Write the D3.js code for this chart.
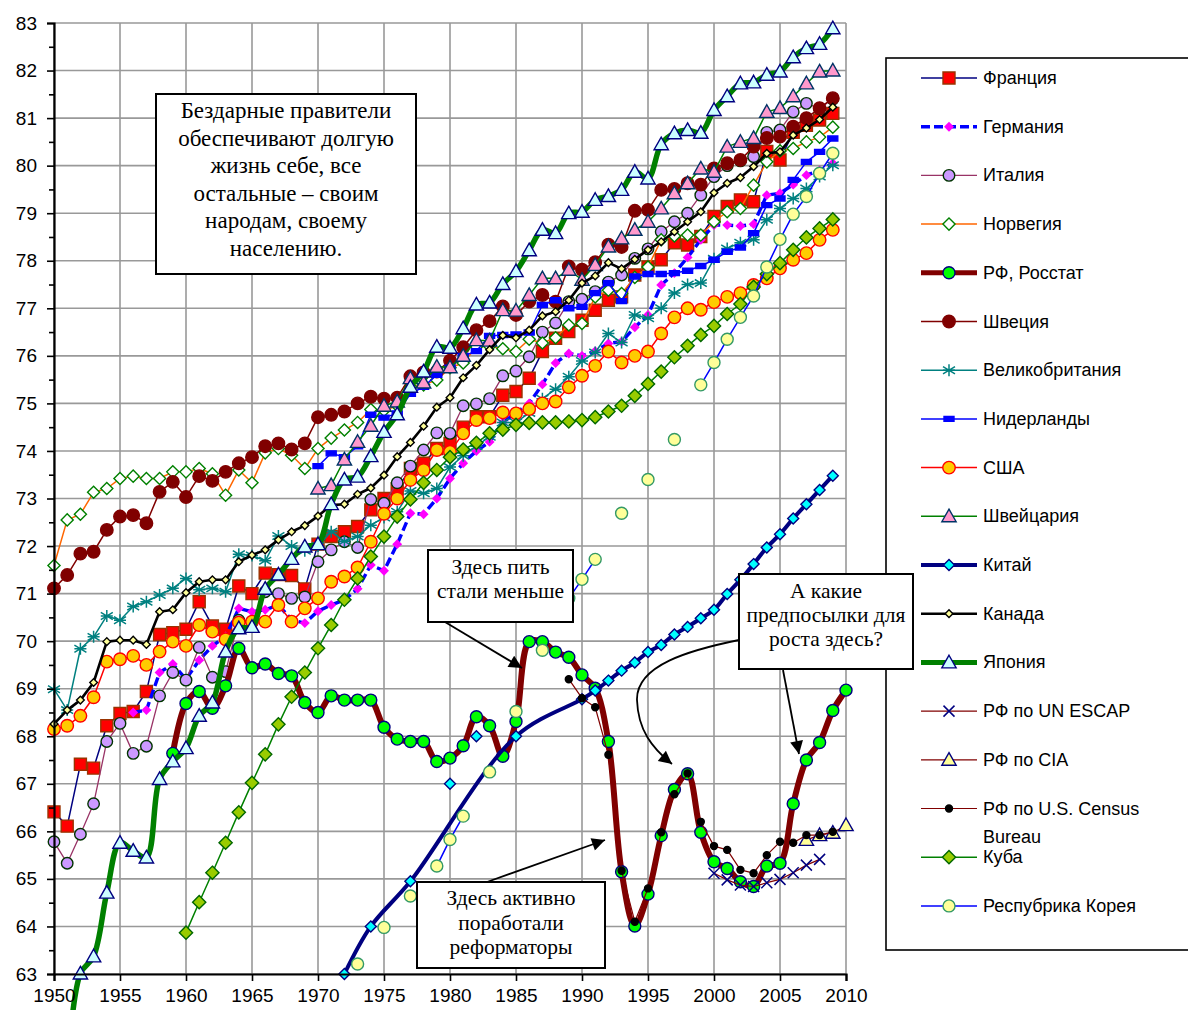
<!DOCTYPE html>
<html>
<head>
<meta charset="utf-8">
<script src="https://cdn.jsdelivr.net/npm/d3@7"></script>
<style>
  body { margin: 0; background: #fff; }
  svg { display: block; }
</style>
</head>
<body>
<div id="viz"></div>
<script>
// --- data ---
const franceStart = 1950;
const franceValues = [66.41, 66.11, 67.41, 67.33, 68.22, 68.48, 68.52, 68.94, 70.14, 70.18,
  70.25, 70.83, 70.32, 70.25, 71.16, 71.0, 71.43, 71.4, 71.38, 71.1,
  72.04, 72.2, 72.3, 72.41, 72.76, 73.0, 73.2, 73.63, 73.74, 74.05,
  74.16, 74.5, 74.72, 74.72, 75.17, 75.25, 75.53, 76.09, 76.37, 76.51,
  76.75, 76.96, 77.17, 77.24, 77.7, 77.87, 78.02, 78.38, 78.33, 78.51,
  78.93, 79.14, 79.28, 79.24, 80.3, 80.12, 80.7, 80.85, 80.96, 81.1];

const germanyStart = 1956;
const germanyValues = [68.5, 68.55, 69.34, 69.52, 69.2, 69.6, 69.9, 70.1, 70.69, 70.62,
  70.66, 70.76, 70.45, 70.38, 70.63, 70.76, 70.87, 71.1, 71.6, 71.48,
  72.04, 72.69, 72.67, 73.0, 73.42, 73.74, 74.0, 74.19, 74.6, 74.8,
  75.0, 75.4, 75.85, 76.05, 76.0, 76.1, 76.26, 76.3, 76.6, 76.86,
  77.49, 77.74, 78.07, 78.44, 78.75, 78.75, 78.73, 78.77, 79.38, 79.42,
  79.6, 79.8, 79.9, 80.05];

const italyStart = 1950;
const italyValues = [65.78, 65.33, 65.94, 66.58, 67.89, 68.27, 67.64, 67.79, 68.85, 69.34,
  69.18, 69.87, 69.24, 69.36, 70.44, 70.4, 71.04, 71.0, 70.9, 70.93,
  71.67, 71.92, 72.09, 71.97, 72.98, 72.9, 73.33, 73.68, 74.02, 74.38,
  74.37, 74.95, 74.99, 75.1, 75.58, 75.68, 75.98, 76.5, 76.69, 77.14,
  77.19, 77.35, 77.55, 77.7, 78.05, 78.25, 78.61, 78.82, 79.0, 79.38,
  79.77, 80.0, 80.1, 80.19, 80.7, 80.75, 81.13, 81.31, 81.2, 81.4];

const norwayStart = 1950;
const norwayValues = [71.59, 72.55, 72.67, 73.13, 73.21, 73.42, 73.47, 73.42, 73.42, 73.56,
  73.56, 73.63, 73.52, 73.07, 73.6, 73.33, 73.96, 74.05, 73.91, 73.63,
  74.05, 74.27, 74.44, 74.6, 74.87, 74.85, 74.95, 75.35, 75.39, 75.49,
  75.75, 75.85, 76.19, 76.2, 76.15, 76.09, 76.35, 76.27, 76.38, 76.65,
  76.68, 77.24, 77.38, 77.31, 77.65, 77.87, 78.44, 78.52, 78.54, 78.54,
  78.82, 79.03, 79.1, 79.59, 80.08, 80.31, 80.36, 80.5, 80.6, 80.81];

const rosstatStart = 1959;
const rosstatValues = [67.64, 68.69, 68.94, 68.59, 69.06, 69.85, 69.44, 69.52, 69.32, 69.27,
  68.71, 68.5, 68.85, 68.76, 68.76, 68.76, 68.19, 67.94, 67.89, 67.89,
  67.47, 67.54, 67.8, 68.41, 68.22, 67.58, 68.31, 69.99, 69.99, 69.77,
  69.66, 69.29, 69.01, 67.89, 65.15, 64.01, 64.68, 65.91, 66.88, 67.21,
  65.98, 65.36, 65.22, 64.94, 64.84, 65.27, 65.33, 66.58, 67.5, 67.87,
  68.54, 68.97];

const swedenStart = 1950;
const swedenValues = [71.11, 71.39, 71.84, 71.88, 72.34, 72.62, 72.65, 72.48, 73.14, 73.35,
  73.03, 73.47, 73.37, 73.56, 73.74, 73.87, 74.1, 74.16, 74.03, 74.16,
  74.71, 74.76, 74.83, 75.0, 75.14, 75.1, 75.12, 75.57, 75.65, 75.67,
  75.9, 76.18, 76.54, 76.73, 77.04, 76.86, 77.14, 77.28, 77.14, 77.88,
  77.81, 77.97, 78.34, 78.29, 79.05, 79.07, 79.49, 79.51, 79.63, 79.6,
  79.94, 80.05, 80.12, 80.4, 80.58, 80.61, 80.82, 81.0, 81.21, 81.42];

const ukStart = 1950;
const ukValues = [68.99, 68.55, 69.84, 70.09, 70.53, 70.44, 70.73, 70.83, 70.97, 71.11,
  71.32, 71.08, 71.11, 71.04, 71.83, 71.8, 71.69, 72.21, 72.0, 71.9,
  72.0, 72.3, 72.1, 72.2, 72.44, 72.6, 72.72, 73.16, 73.11, 73.21,
  73.66, 73.9, 74.1, 74.3, 74.6, 74.6, 74.8, 75.1, 75.3, 75.56,
  75.89, 76.07, 76.47, 76.28, 76.86, 76.79, 77.0, 77.32, 77.5, 77.53,
  78.04, 78.26, 78.38, 78.44, 78.86, 79.1, 79.31, 79.52, 79.77, 80.01];

const netherlandsStart = 1970;
const netherlandsValues = [73.68, 73.95, 73.87, 74.1, 74.76, 74.7, 74.79, 75.2, 75.35, 75.6,
  75.75, 76.0, 76.1, 76.42, 76.44, 76.45, 76.49, 77.07, 77.17, 77.0,
  77.03, 77.32, 77.53, 77.15, 77.67, 77.72, 77.72, 77.74, 77.79, 77.89,
  78.02, 78.19, 78.28, 78.58, 79.17, 79.31, 79.7, 80.08, 80.29, 80.57];

const usaStart = 1950;
const usaValues = [68.15, 68.22, 68.43, 68.82, 69.57, 69.62, 69.69, 69.5, 69.78, 69.99,
  69.9, 70.34, 70.2, 70.04, 70.39, 70.41, 70.41, 70.76, 70.41, 70.69,
  70.9, 71.25, 71.36, 71.55, 72.09, 72.68, 73.0, 73.39, 73.6, 74.02,
  73.98, 74.37, 74.65, 74.69, 74.81, 74.79, 74.88, 75.0, 75.04, 75.34,
  75.58, 75.79, 76.09, 75.86, 76.0, 76.09, 76.47, 76.81, 77.0, 76.97,
  77.13, 77.24, 77.32, 77.49, 77.63, 77.84, 78.02, 78.16, 78.44, 78.65];

const swissStart = 1970;
const swissValues = [73.21, 73.28, 73.82, 74.19, 74.53, 74.95, 75.04, 75.53, 75.44, 75.77,
  75.76, 76.0, 76.33, 76.32, 76.96, 76.95, 77.28, 77.63, 77.63, 77.81,
  77.6, 77.91, 78.3, 78.47, 78.65, 78.82, 79.1, 79.42, 79.63, 79.94,
  79.87, 80.4, 80.5, 80.58, 81.13, 81.21, 81.46, 81.73, 81.98, 82.0];

const chinaYears = [1972, 1974, 1977, 1985, 1990, 1991, 1992, 1993, 1994, 1995, 1996, 1997,
  1998, 1999, 2000, 2001, 2002, 2003, 2004, 2005, 2006, 2007, 2008, 2009];
const chinaValues = [63.0, 64.0, 64.95, 68.0, 68.78, 68.96, 69.17, 69.38, 69.55, 69.77, 69.92, 70.14,
  70.3, 70.48, 70.66, 70.99, 71.29, 71.62, 71.97, 72.25, 72.58, 72.88, 73.18, 73.48];
const chinaExtraYears = [1980, 1982];
const chinaExtraValues = [67.0, 68.0];

const canadaStart = 1950;
const canadaValues = [68.26, 68.55, 68.76, 69.13, 69.99, 70.02, 70.02, 69.93, 70.62, 70.66,
  71.02, 71.25, 71.29, 71.29, 71.67, 71.81, 71.92, 72.13, 72.3, 72.43,
  72.63, 72.86, 72.88, 73.09, 73.22, 73.49, 73.88, 74.18, 74.52, 74.92,
  75.12, 75.54, 75.8, 76.13, 76.43, 76.38, 76.54, 76.84, 76.93, 77.17,
  77.53, 77.68, 77.96, 77.83, 78.03, 78.23, 78.4, 78.61, 78.82, 79.03,
  79.43, 79.63, 79.75, 79.98, 80.26, 80.29, 80.64, 80.79, 80.97, 81.23];

const japanStart = 1951;
const japanValues = [61.0, 63.01, 63.37, 64.71, 65.76, 65.59, 65.45, 67.1, 67.47,
  67.75, 68.43, 68.71, 69.78, 70.27, 70.3, 71.1, 71.4, 71.73, 71.99,
  72.04, 72.88, 73.4, 73.46, 73.89, 74.4, 74.77, 75.35, 75.67, 76.19,
  76.17, 76.58, 77.08, 77.12, 77.51, 77.78, 78.22, 78.65, 78.58, 79.0,
  79.03, 79.28, 79.36, 79.49, 79.87, 79.73, 80.45, 80.68, 80.75, 80.69,
  81.17, 81.46, 81.73, 81.75, 81.91, 81.98, 82.28, 82.47, 82.56, 82.89];

const escapStart = 2000;
const escapValues = [65.12, 64.98, 64.87, 64.84, 64.92, 64.99, 65.13, 65.29, 65.41];

const ciaStart = 2007;
const ciaValues = [65.82, 65.92, 65.97, 66.13];

const censusStart = 1989;
const censusValues = [69.2, 68.8, 68.61, 67.61, 65.17, 64.1, 64.8, 65.98, 66.78, 67.22,
  66.2, 65.69, 65.61, 65.19, 65.12, 65.5, 65.78, 65.76, 65.92, 65.92, 65.99];

const cubaStart = 1960;
const cubaValues = [63.87, 64.51, 65.13, 65.76, 66.4, 67.02, 67.62, 68.25, 68.83, 69.34,
  69.85, 70.34, 70.87, 71.32, 71.78, 72.2, 72.62, 72.98, 73.33, 73.6,
  73.87, 74.03, 74.17, 74.37, 74.45, 74.55, 74.59, 74.6, 74.6, 74.62,
  74.65, 74.71, 74.83, 74.95, 75.16, 75.41, 75.67, 75.97, 76.21, 76.44,
  76.63, 76.88, 77.09, 77.45, 77.72, 77.95, 78.23, 78.49, 78.68, 78.87];

const koreaStart = 1973;
const koreaValues = [63.21, null, 63.98, null, 64.64, null, 65.27, 65.83, 66.32, null,
  67.25, null, 68.52, null, 69.81, null, 70.9, 71.3, 71.72, null,
  72.69, null, 73.4, null, 74.24, null, 75.39, 75.86, 76.35, 76.81,
  77.26, 77.87, 78.45, 78.98, 79.35, 79.84, 80.26];

const yTicks = d3.range(63, 84);
const xTicks = d3.range(1950, 2011, 5);

const noteMain = ["Бездарные правители", "обеспечивают долгую", "жизнь себе, все",
  "остальные – своим", "народам, своему", "населению."];
const noteDrink = ["Здесь пить", "стали меньше"];
const noteReform = ["Здесь активно", "поработали", "реформаторы"];
const noteGrowth = ["А какие", "предпосылки для", "роста здесь?"];

// --- setup ---
const W = 1188, H = 1010;
const svg = d3.select("#viz").append("svg").attr("width", W).attr("height", H)
  .style("background", "#fff");

const x = d3.scaleLinear().domain([1950, 2010]).range([54, 846]);
const y = d3.scaleLinear().domain([63, 83]).range([974, 23]);

const sansFont = "'Liberation Sans', Arial, sans-serif";
const serifFont = "'Liberation Serif', 'Times New Roman', serif";

const series = [
  { name: "Франция", start: franceStart, values: franceValues, stroke: "#000080", width: 1.5,
    marker: "square", size: 12, fill: "#ff0000", mstroke: "#993300" },
  { name: "Германия", start: germanyStart, values: germanyValues, stroke: "#0000ff", width: 3.4,
    dash: "9,4", marker: "diamond", size: 9, fill: "#ff00ff", mstroke: "none" },
  { name: "Италия", start: italyStart, values: italyValues, stroke: "#993366", width: 1.3,
    marker: "circle", size: 11.5, fill: "#cc99ff", mstroke: "#003300" },
  { name: "Норвегия", start: norwayStart, values: norwayValues, stroke: "#ff6600", width: 1.5,
    marker: "diamond", size: 11, fill: "#ffffff", mstroke: "#008000" },
  { name: "РФ, Росстат", start: rosstatStart, values: rosstatValues, stroke: "#800000", width: 6,
    smooth: true, marker: "circle", size: 12, fill: "#00ff00", mstroke: "#000080" },
  { name: "Швеция", start: swedenStart, values: swedenValues, stroke: "#800000", width: 1.5,
    marker: "circle", size: 12.5, fill: "#800000", mstroke: "#800000" },
  { name: "Великобритания", start: ukStart, values: ukValues, stroke: "#008080", width: 1.5,
    marker: "star", size: 12, fill: "none", mstroke: "#008080" },
  { name: "Нидерланды", start: netherlandsStart, values: netherlandsValues, stroke: "#0000ff", width: 1.5,
    marker: "rect", size: 10, fill: "#0000ff", mstroke: "#0000ff" },
  { name: "США", start: usaStart, values: usaValues, stroke: "#ff0000", width: 1.5,
    marker: "circle", size: 12.5, fill: "#ffcc00", mstroke: "#ff0000" },
  { name: "Швейцария", start: swissStart, values: swissValues, stroke: "#008000", width: 1.5,
    marker: "triangle", size: 13, fill: "#ff99cc", mstroke: "#003366" },
  { name: "Китай", years: chinaYears, values: chinaValues, stroke: "#000080", width: 4,
    smooth: true, marker: "diamond", size: 10, fill: "#00ffff", mstroke: "#000080" },
  { name: "Канада", start: canadaStart, values: canadaValues, stroke: "#000000", width: 2.6,
    marker: "diamond", size: 7, fill: "#ffff99", mstroke: "#000000" },
  { name: "Япония", start: japanStart, values: japanValues, stroke: "#008000", width: 5.5,
    smooth: true, marker: "triangle", size: 13, fill: "#ccffff", mstroke: "#000080" },
  { name: "РФ по UN ESCAP", start: escapStart, values: escapValues, stroke: "#800000", width: 1.2,
    marker: "cross", size: 11, fill: "none", mstroke: "#000080" },
  { name: "РФ по CIA", start: ciaStart, values: ciaValues, stroke: "#800000", width: 1.2,
    marker: "triangle", size: 13, fill: "#ffff99", mstroke: "#000080" },
  { name: "РФ по U.S. Census", extra: "Bureau", start: censusStart, values: censusValues, stroke: "#800000", width: 1.2,
    marker: "circle", size: 7, fill: "#000000", mstroke: "#000000" },
  { name: "Куба", start: cubaStart, values: cubaValues, stroke: "#008000", width: 1.5,
    marker: "diamond", size: 12, fill: "#99cc00", mstroke: "#006600" },
  { name: "Респубрика Корея", start: koreaStart, values: koreaValues, stroke: "#0000ff", width: 1.5,
    marker: "circle", size: 12, fill: "#ffff99", mstroke: "#339966" }
];

function markerPath(type, s) {
  const h = s / 2;
  switch (type) {
    case "square": return `M${-h},${-h}h${s}v${s}h${-s}Z`;
    case "circle": return d3.symbol(d3.symbolCircle, Math.PI * h * h)();
    case "diamond": return `M0,${-h * 1.1}L${h * 1.1},0L0,${h * 1.1}L${-h * 1.1},0Z`;
    case "triangle": return `M0,${-s * 0.55}L${s * 0.55},${s * 0.42}L${-s * 0.55},${s * 0.42}Z`;
    case "rect": return `M${-h},${-h / 2}h${s}v${h}h${-s}Z`;
    case "star": return `M0,${-h}V${h}M${-h},${-h * 0.6}L${h},${h * 0.6}M${-h},${h * 0.6}L${h},${-h * 0.6}M${-h},0H${h}`;
    case "cross": return `M${-h},${-h}L${h},${h}M${-h},${h}L${h},${-h}`;
  }
}

function drawMarkers(g, pts, s) {
  const open = s.marker === "star" || s.marker === "cross";
  g.selectAll(null).data(pts).enter().append("path")
    .attr("transform", d => `translate(${x(d.year)},${y(d.v)})`)
    .attr("d", markerPath(s.marker, s.size))
    .attr("fill", open ? "none" : s.fill)
    .attr("stroke", s.mstroke)
    .attr("stroke-width", open ? 1.5 : 1.4);
}

// --- grid ---
const grid = svg.append("g");
grid.selectAll("line.h").data(yTicks).enter().append("line")
  .attr("x1", x(1950)).attr("x2", x(2010))
  .attr("y1", d => y(d)).attr("y2", d => y(d))
  .attr("stroke", "#999").attr("stroke-width", 1.6);
grid.selectAll("line.v").data(xTicks).enter().append("line")
  .attr("x1", d => x(d)).attr("x2", d => x(d))
  .attr("y1", y(63)).attr("y2", y(83))
  .attr("stroke", "#999").attr("stroke-width", 1.6);

// --- series ---
const plot = svg.append("g");
series.forEach(s => {
  const pts = s.values.map((v, i) => ({ year: s.years ? s.years[i] : s.start + i, v }));
  const g = plot.append("g");
  const line = d3.line()
    .defined(d => d.v != null)
    .x(d => x(d.year)).y(d => y(d.v))
    .curve(s.smooth ? d3.curveCatmullRom.alpha(0.5) : d3.curveLinear);
  g.append("path").datum(pts)
    .attr("d", line)
    .attr("fill", "none")
    .attr("stroke", s.stroke)
    .attr("stroke-width", s.width)
    .attr("stroke-linejoin", "round")
    .attr("stroke-dasharray", s.dash || null);
  drawMarkers(g, pts.filter(d => d.v != null), s);
  if (s.name === "Китай") {
    const extra = chinaExtraValues.map((v, i) => ({ year: chinaExtraYears[i], v }));
    drawMarkers(g, extra, s);
  }
});

// --- axes ---
const yAxis = svg.append("g").attr("transform", `translate(${x(1950)},0)`)
  .call(d3.axisLeft(y).tickValues(yTicks).tickSize(7).tickPadding(10).tickFormat(d3.format("d")));
svg.append("g").attr("transform", `translate(${x(1950)},0)`)
  .call(d3.axisLeft(y).tickValues(d3.range(63.5, 83, 1)).tickSize(5).tickFormat(""))
  .call(g => g.select(".domain").remove());
const xAxis = svg.append("g").attr("transform", `translate(0,${y(63)})`)
  .call(d3.axisBottom(x).tickValues(xTicks).tickSize(7).tickPadding(8).tickFormat(d3.format("d")));
[yAxis, xAxis].forEach(a => {
  a.select(".domain").attr("stroke", "#000").attr("stroke-width", 2.2);
  a.selectAll("text").attr("font-family", sansFont).attr("font-size", 19).attr("fill", "#000");
});
svg.selectAll(".tick line").attr("stroke", "#000").attr("stroke-width", 1.6);

// --- annotations ---
const defs = svg.append("defs");
defs.append("marker").attr("id", "arrow")
  .attr("viewBox", "0 0 10 10").attr("refX", 10).attr("refY", 5)
  .attr("markerWidth", 15).attr("markerHeight", 13).attr("markerUnits", "userSpaceOnUse")
  .attr("orient", "auto")
  .append("path").attr("d", "M0,0L10,5L0,10Z").attr("fill", "#000");

function noteBox(x0, y0, w, h, lines, size, lh, firstY) {
  const g = svg.append("g");
  g.append("rect").attr("x", x0).attr("y", y0).attr("width", w).attr("height", h)
    .attr("fill", "#fff").attr("stroke", "#000").attr("stroke-width", 2);
  g.selectAll("text").data(lines).enter().append("text")
    .attr("x", x0 + w / 2).attr("y", (d, i) => firstY + i * lh)
    .attr("text-anchor", "middle")
    .attr("font-family", serifFont).attr("font-size", size).attr("fill", "#000")
    .text(d => d);
}

function arrow(d) {
  svg.append("path").attr("d", d).attr("fill", "none")
    .attr("stroke", "#000").attr("stroke-width", 1.8)
    .attr("marker-end", "url(#arrow)");
}

noteBox(156, 94, 260, 180, noteMain, 23, 27.5, 118);
arrow("M445,622L522,668");
noteBox(428, 550, 145, 72, noteDrink, 21.5, 23.5, 574);
arrow("M487,882L605,840");
noteBox(417, 882, 188, 86, noteReform, 21.5, 24.5, 905);

// --- legend ---
const legend = svg.append("g");
legend.append("rect").attr("x", 886).attr("y", 58).attr("width", 330).attr("height", 892)
  .attr("fill", "#fff").attr("stroke", "#000").attr("stroke-width", 1.6);
series.forEach((s, i) => {
  const ly = 78 + i * 48.7;
  const g = legend.append("g");
  g.append("line").attr("x1", 921).attr("x2", 977).attr("y1", ly).attr("y2", ly)
    .attr("stroke", s.stroke).attr("stroke-width", Math.min(s.width, 5))
    .attr("stroke-dasharray", s.dash ? "9,4" : null);
  drawMarkers(g, [{ year: 0, v: 0 }], s);
  g.select("path").attr("transform", `translate(949,${ly})`);
  g.append("text").attr("x", 983).attr("y", ly + 6)
    .attr("font-family", sansFont).attr("font-size", 18).attr("fill", "#000")
    .text(s.name);
  if (s.extra) {
    g.append("text").attr("x", 983).attr("y", ly + 34)
      .attr("font-family", sansFont).attr("font-size", 18).attr("fill", "#000")
      .text(s.extra);
  }
});

// box over the legend edge, with its two arrows
arrow("M739,640C690,650 636,665 637,700C638,730 652,748 672,764");
arrow("M783,670L799,754");
noteBox(739, 574, 174, 95, noteGrowth, 21.5, 24, 598);
</script>
</body>
</html>
